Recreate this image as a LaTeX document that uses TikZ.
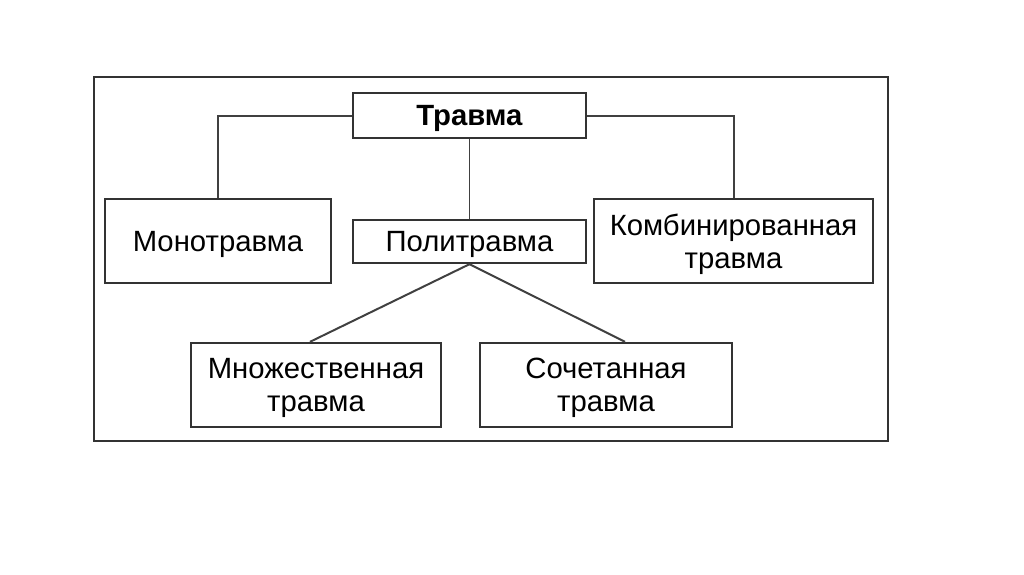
\documentclass[tikz,border=0pt]{standalone}
\usepackage{fontspec}
\setmainfont{Liberation Sans}
\usepackage{tikz}

\tikzset{
  kind/.style={draw=black!80, line width=2pt, fill=white, inner sep=0pt,
    align=center, text depth=0pt, font=\fontsize{25}{28}\selectfont},
  link/.style={draw=black!75, line width=1.7pt}
}

\begin{document}
\begin{tikzpicture}[x=0.03cm, y=-0.03cm]
        \useasboundingbox (0,0) rectangle (1024,574); % page size
        \draw[line width=2.4pt, black!80] (94,77) rectangle (888,441); % outer frame
        \node[kind, minimum width=6.99cm, minimum height=1.35cm] (trauma) at (469.5,115.5) {\textbf{Травма}};
        \node[kind, minimum width=6.78cm, minimum height=2.52cm] (mono) at (218,241) {Монотравма};
        \node[kind, minimum width=6.99cm, minimum height=1.29cm] (poly) at (469.5,241.5) {Политравма};
        \node[kind, minimum width=8.37cm, minimum height=2.52cm] (combined) at (733.5,241) {Комбинированная\\травма};
        \node[kind, minimum width=7.5cm, minimum height=2.52cm] (multiple) at (316,385) {Множественная\\травма};
        \node[kind, minimum width=7.56cm, minimum height=2.52cm] (associated) at (606,385) {Сочетанная\\травма};
        \draw[link] (trauma.west) -| (mono.north); % left branch
        \draw[link] (trauma.east) -| (combined.north); % right branch
        \draw[link] (trauma.south) -- (poly.north); % middle branch
        \draw[link] (poly.south) -- ([xshift=-0.18cm]multiple.north);
        \draw[link] (poly.south) -- ([xshift=0.57cm]associated.north);
      \end{tikzpicture}
\end{document}
